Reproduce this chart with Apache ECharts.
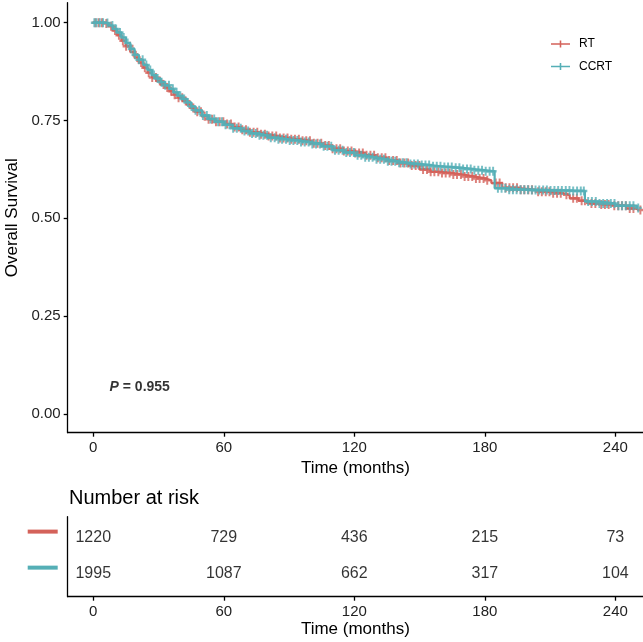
<!DOCTYPE html>
<html>
<head>
<meta charset="utf-8">
<script src="https://cdn.jsdelivr.net/npm/echarts@6/dist/echarts.min.js"></script>
<style>html,body{margin:0;padding:0;background:#fff}#c{width:643px;height:642px}</style>
</head>
<body>
<div id="c"></div>
<script>
// ---- data ----
const groups = ['RT', 'CCRT'];
const colors = ['#D4625A', '#55AFB6'];

const rtTime = [0,5,7,9,11,13,15,17,19,21,23,25,27,29,31,33,35,37,39,41,43,45,47,50,53,56,60,64,68,72,76,80,85,90,95,100,105,110,115,120,125,130,135,140,145,150,155,160,165,170,175,180,183,188,195,203,210,216,219,223,227,232,238,245,250];
const rtSurv = [1.0,0.998,0.991,0.98,0.968,0.954,0.94,0.925,0.911,0.898,0.885,0.872,0.86,0.851,0.842,0.834,0.825,0.816,0.808,0.8,0.791,0.782,0.772,0.761,0.753,0.747,0.741,0.733,0.726,0.72,0.715,0.71,0.705,0.702,0.698,0.692,0.686,0.678,0.672,0.667,0.661,0.655,0.648,0.641,0.635,0.625,0.619,0.616,0.612,0.607,0.602,0.597,0.59,0.578,0.573,0.568,0.564,0.56,0.551,0.545,0.538,0.535,0.532,0.525,0.521];

const ccTime = [0,5,7,9,11,13,15,17,19,21,23,25,27,29,31,33,35,37,39,41,43,45,47,50,53,56,60,64,68,72,76,80,85,90,95,100,105,110,115,120,125,130,135,140,145,150,155,160,165,170,175,180,184.5,190,200,210,220,226,232,240,250];
const ccSurv = [1.0,0.999,0.993,0.984,0.975,0.962,0.948,0.933,0.918,0.905,0.892,0.879,0.866,0.857,0.848,0.84,0.831,0.822,0.813,0.805,0.796,0.786,0.776,0.763,0.754,0.747,0.739,0.73,0.723,0.717,0.712,0.706,0.702,0.699,0.695,0.69,0.684,0.674,0.668,0.661,0.656,0.651,0.646,0.642,0.639,0.636,0.633,0.631,0.629,0.626,0.623,0.62,0.577,0.573,0.572,0.571,0.57,0.543,0.538,0.532,0.526];

const rtCensor = [1,2.5,4,6,8.2,10,11.8,13.6,15.1,16.9,18.4,20.2,22,23.7,25.5,27.1,28.8,30.6,32.3,34,35.8,37.4,39.2,40.9,42.5,44.3,46,47.8,49.5,51.2,53,54.6,56.4,58.1,59.8,61.5,63.3,65,66.8,68.5,70.2,72,73.7,75.4,77.1,78.9,80.6,82.3,84.1,85.8,87.5,89.3,91,92.7,94.5,96.2,97.9,99.6,101.4,103.1,104.8,106.6,108.3,110,111.8,113.5,115.2,117,118.7,120.4,122.2,123.9,125.6,127.4,129.1,130.8,132.6,134.3,136,137.8,139.5,141.2,143,144.7,146.4,148.2,149.9,151.6,153.4,155.1,156.8,158.6,160.3,162,163.8,165.5,167.2,169,170.7,172.4,174.2,175.9,177.6,179.4,181.1,185,186.8,189.6,191.3,193,194.8,196.5,198.2,200,201.7,204.5,206.2,208,209.7,211.4,213.2,214.9,217.5,220.6,222.3,224.5,226,229,230.8,233.5,235.2,236.9,239.5,241.3,243,244.8,246.6,248.3,251.5];
const ccCensor = [0.5,1.5,3,4.5,6.5,8.8,10.5,12.3,14,15.8,17.5,19.2,21,22.7,24.4,26.2,27.9,29.6,31.4,33.1,34.8,36.6,38.3,40,41.8,43.5,45.2,47,48.7,50.4,52.2,53.9,55.6,57.4,59.1,60.8,62.6,64.3,66,67.8,69.5,71.2,73,74.7,76.4,78.2,79.9,81.6,83.4,85.1,86.8,88.6,90.3,92,93.8,95.5,97.2,99,100.7,102.4,104.2,105.9,107.6,109.4,111.1,112.8,114.6,116.3,118,119.8,121.5,123.2,125,126.7,128.4,130.2,131.9,133.6,135.4,137.1,138.8,140.6,142.3,144,145.8,147.5,149.2,151,152.7,154.4,156.2,157.9,159.6,161.4,163.1,164.8,166.6,168.3,170,171.8,173.5,175.2,177,178.7,180.4,182.2,183.8,186,187.7,189.4,191.2,192.9,194.6,196.4,198.1,199.8,201.6,203.3,205,206.8,208.5,210.2,212,213.7,215.4,217.2,218.9,220.6,222.4,224.1,225.5,227.5,229.2,231,232.7,234.4,236.2,237.9,239.6,241.4,243.1,244.8,246.6,248.3,250.5];

const tickValues = [0, 60, 120, 180, 240];
const yTicks = [0, 0.25, 0.5, 0.75, 1];
const riskRT = [1220, 729, 436, 215, 73];
const riskCCRT = [1995, 1087, 662, 317, 104];

// ---- build ----
function stepAt(times, surv, t) {
  let v = surv[0];
  for (let i = 0; i < times.length; i++) { if (times[i] <= t) v = surv[i]; else break; }
  return v;
}
const curves = [[rtTime, rtSurv, rtCensor], [ccTime, ccSurv, ccCensor]];
const PLUS = 'path://M3.6,0H6.4V3.6H10V6.4H6.4V10H3.6V6.4H0V3.6H3.6Z';
const LEG = 'path://M0,3.1H10.1V0H11.9V3.1H22V4.9H11.9V8H10.1V4.9H0Z';
const FONT = 'Liberation Sans, Arial, sans-serif';

const series = [];
curves.forEach((c, k) => {
  series.push({
    name: groups[k], type: 'line', step: 'end', xAxisIndex: 0, yAxisIndex: 0,
    data: c[0].map((t, i) => [t, c[1][i]]), showSymbol: false, symbol: 'none',
    lineStyle: { color: colors[k], width: 2.2 }, itemStyle: { color: colors[k] },
    silent: true, animation: false, z: 2 + k * 2
  });
  series.push({
    name: groups[k], type: 'scatter', xAxisIndex: 0, yAxisIndex: 0,
    data: c[2].map(t => [t, stepAt(c[0], c[1], t)]),
    symbol: PLUS, symbolSize: [7, 9], itemStyle: { color: colors[k] },
    silent: true, animation: false, z: 3 + k * 2
  });
});
series.push({
  type: 'scatter', xAxisIndex: 0, yAxisIndex: 0, data: [[7.5, 0.069]], symbolSize: 0,
  label: { show: true, position: 'right', distance: 0,
    formatter: () => '{p|P}{r| = 0.955}',
    rich: { p: { fontStyle: 'italic', fontWeight: 'bold', fontSize: 14, fontFamily: FONT, color: '#000' },
            r: { fontWeight: 'bold', fontSize: 14, fontFamily: FONT, color: '#000' } } },
  silent: true, animation: false
});
const riskRows = [riskRT, riskCCRT];
riskRows.forEach((row, k) => {
  series.push({
    type: 'scatter', xAxisIndex: 1, yAxisIndex: 1,
    data: tickValues.map((t, i) => [t, 2 - k, row[i]]), symbolSize: 0,
    label: { show: true, position: 'inside', formatter: p => String(p.value[2]), fontFamily: FONT, fontSize: 16, color: '#000' },
    silent: true, animation: false
  });
});

const axisCommon = {
  axisLine: { show: true, onZero: false, lineStyle: { color: '#000', width: 1.3 } },
  axisTick: { show: true, length: 4, lineStyle: { color: '#000', width: 1.3 } },
  splitLine: { show: false }
};

const option = {
  backgroundColor: '#fff',
  animation: false,
  title: { text: 'Number at risk', left: 64, top: 483, textStyle: { fontFamily: FONT, fontSize: 20, fontWeight: 'normal', color: '#000' } },
  legend: {
    orient: 'vertical', left: 551, top: 38, padding: 0, itemWidth: 19, itemHeight: 8, itemGap: 10.5,
    selectedMode: false,
    data: groups.map((g, k) => ({ name: g, icon: LEG, itemStyle: { color: colors[k] } })),
    textStyle: { fontFamily: FONT, fontSize: 12, color: '#000', padding: [0, 0, 0, 4] }
  },
  grid: [
    { left: 67.7, top: 2.7, right: 0, height: 430, outerBoundsMode: 'none', containLabel: false },
    { left: 67.7, top: 516.7, right: 0, height: 80, outerBoundsMode: 'none', containLabel: false }
  ],
  xAxis: [0, 1].map(i => Object.assign({}, axisCommon, {
    type: 'value', gridIndex: i, min: -11.75, max: 252.7,
    name: 'Time (months)', nameLocation: 'middle', nameGap: 24,
    nameTextStyle: { fontFamily: FONT, fontSize: 17, color: '#000' },
    axisTick: Object.assign({}, axisCommon.axisTick, { customValues: tickValues }),
    axisLabel: { customValues: tickValues, margin: 7.5, fontFamily: FONT, fontSize: 15, color: '#222' }
  })),
  yAxis: [
    Object.assign({}, axisCommon, {
      type: 'value', gridIndex: 0, min: -0.048, max: 1.051,
      name: 'Overall Survival', nameLocation: 'middle', nameGap: 47,
      nameTextStyle: { fontFamily: FONT, fontSize: 17, color: '#000' },
      axisTick: Object.assign({}, axisCommon.axisTick, { customValues: yTicks }),
      axisLabel: { customValues: yTicks, margin: 7, fontFamily: FONT, fontSize: 15, color: '#222', formatter: v => v.toFixed(2) }
    }),
    Object.assign({}, axisCommon, {
      type: 'value', gridIndex: 1, min: 0.36, max: 2.58,
      axisTick: { show: false },
      axisLabel: {
        customValues: [1, 2], margin: 10,
        formatter: v => (v === 2 ? '{a|}' : '{b|}') + '\n{s|}',
        rich: {
          a: { backgroundColor: colors[0], width: 30, height: 4 },
          b: { backgroundColor: colors[1], width: 30, height: 4 },
          s: { height: 12, width: 30 }
        }
      }
    })
  ],
  series: series
};
const chart = echarts.init(document.getElementById('c'), null, { renderer: 'canvas' });
chart.setOption(option);
</script>
</body>
</html>
